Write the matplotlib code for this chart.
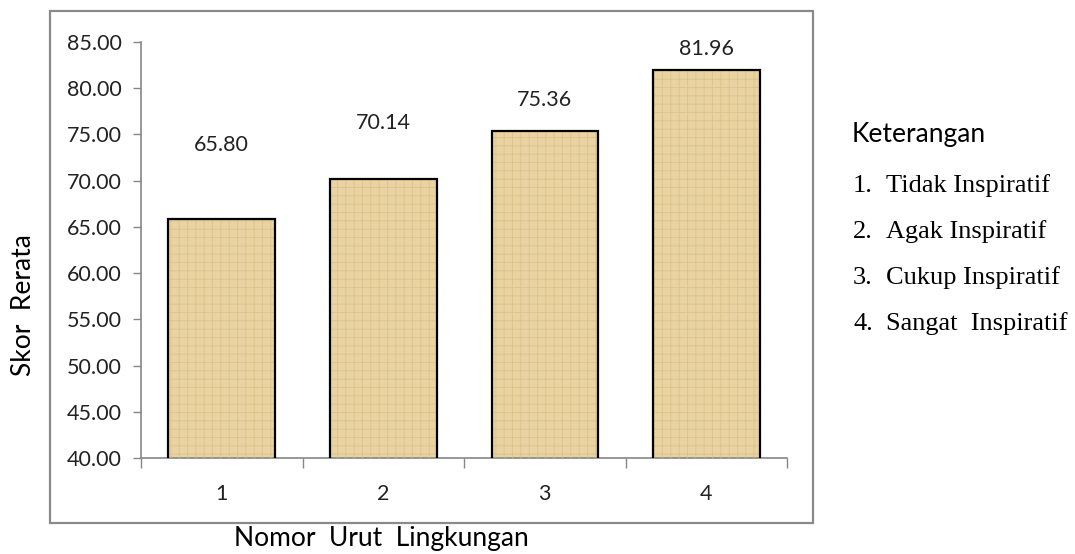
import numpy as np
import matplotlib.pyplot as plt
from matplotlib.patches import Rectangle

categories = ['1', '2', '3', '4']
scores = [65.80, 70.14, 75.36, 81.96]
score_labels = ['65.80', '70.14', '75.36', '81.96']
legend_title = 'Keterangan'
legend_nums = ['1.', '2.', '3.', '4.']
legend_items = ['Tidak Inspiratif', 'Agak Inspiratif', 'Cukup Inspiratif', 'Sangat  Inspiratif']

# label offsets above each bar (pixels), labels were moved by hand in the original
label_offsets = [74, 56, 31, 21]

sans = 'Lato'
serif = 'Liberation Serif'
plt.rcParams['font.family'] = [sans, 'DejaVu Sans']
plt.rcParams['hatch.linewidth'] = 0.6

fig = plt.figure(figsize=(10.75, 5.54), dpi=100)
ax = fig.add_axes([0.1312, 0.1733, 0.601, 0.751])

x = np.arange(1, len(categories) + 1)
width = 0.66
bar_color = '#EAD3A2'

ax.bar(x, scores, width, color=bar_color, edgecolor='none', zorder=2)
ax.bar(x, scores, width, fill=False, hatch='++', edgecolor='#DCC28A', linewidth=0, zorder=3)
bars = ax.bar(x, scores, width, fill=False, edgecolor='black', linewidth=1.6, zorder=4)

for b, lab, off in zip(bars, score_labels, label_offsets):
    ax.annotate(lab, (b.get_x() + b.get_width() / 2, b.get_height()),
                xytext=(0, off), textcoords='offset pixels',
                ha='center', va='center', fontsize=15.5, color='#222222')

ax.set_ylim(40, 85)
ax.set_xlim(0.5, 4.5)
ax.set_yticks(np.arange(40, 86, 5))
ax.set_yticklabels([f'{v:.2f}' for v in np.arange(40, 86, 5)])
ax.set_xticks(x)
ax.set_xticklabels(categories)
ax.set_xticks(np.arange(0.5, 4.6, 1), minor=True)

ax.tick_params(axis='y', length=6, width=1, color='#868686', pad=8, labelsize=15.5, labelcolor='#222222')
ax.tick_params(axis='x', which='major', length=0, pad=19, labelsize=15.5, labelcolor='#222222')
ax.tick_params(axis='x', which='minor', length=7, width=1, color='#868686')

for s in ['top', 'right']:
    ax.spines[s].set_visible(False)
for s in ['left', 'bottom']:
    ax.spines[s].set_color('#868686')
    ax.spines[s].set_linewidth(1.2)

# outer chart border
fig.patches.append(Rectangle((0.0465, 0.056), 0.7098, 0.9241, transform=fig.transFigure,
                             fill=False, edgecolor='#8a8a8a', linewidth=1.6))

fig.text(0.0214, 0.45, 'Skor  Rerata', rotation=90, ha='center', va='center', fontsize=19)
fig.text(0.355, 0.028, 'Nomor  Urut  Lingkungan', ha='center', va='center', fontsize=19)

fig.text(0.7926, 0.7437, legend_title, ha='left', va='baseline', fontsize=19)
for i, (n, item) in enumerate(zip(legend_nums, legend_items)):
    yy = 0.6534 - i * 0.083
    fig.text(0.7935, yy, n, ha='left', va='baseline', fontsize=19, family=serif)
    fig.text(0.8240, yy, item, ha='left', va='baseline', fontsize=19, family=serif)

fig.savefig('out.png', dpi=100)
